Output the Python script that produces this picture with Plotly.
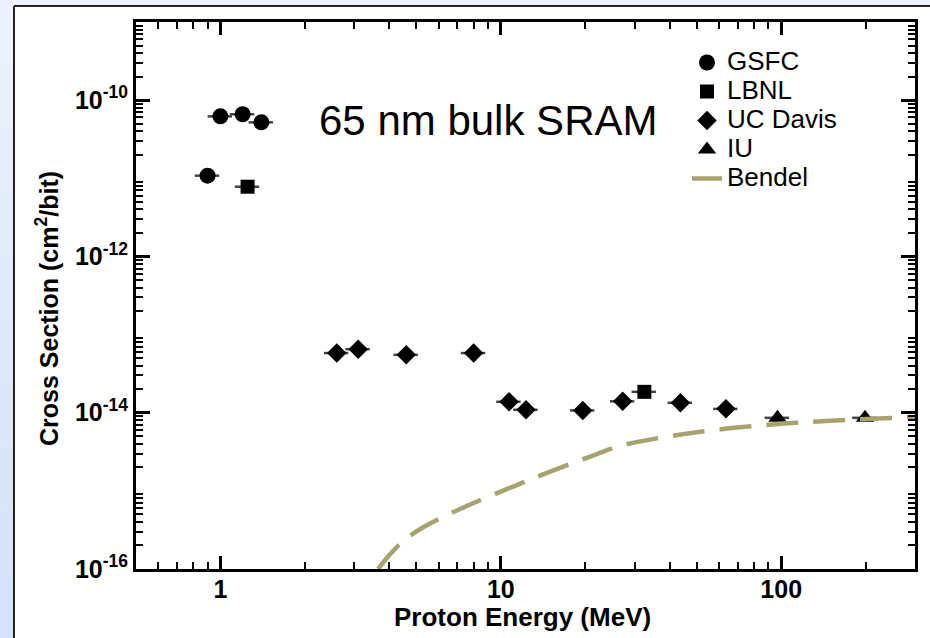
import plotly.graph_objects as go

# ---- data ----
gsfc_x = [0.9, 1.0, 1.2, 1.4]
gsfc_y = [1.08e-11, 6.2e-11, 6.6e-11, 5.2e-11]

lbnl_x = [1.25, 32.5]
lbnl_y = [7.8e-12, 1.85e-14]

ucd_x = [2.6, 3.1, 4.6, 8.0, 10.7, 12.3, 19.6, 27.2, 43.7, 63.5]
ucd_y = [5.8e-14, 6.5e-14, 5.5e-14, 5.8e-14, 1.38e-14, 1.09e-14, 1.07e-14, 1.4e-14, 1.34e-14, 1.12e-14]

iu_x = [97, 199]
iu_y = [0.86e-14, 0.86e-14]

bendel_x = [3.65, 4.0, 4.5, 5.2, 6.5, 8.0, 10.5, 14, 20, 27, 40, 60, 100, 150, 300]
bendel_y = [1.0e-16, 1.5e-16, 2.3e-16, 3.3e-16, 5.0e-16, 7.0e-16, 1.05e-15, 1.6e-15,
            2.6e-15, 3.8e-15, 5.0e-15, 6.1e-15, 7.2e-15, 7.9e-15, 8.8e-15]

x_err_pct = 10

legend_names = ["GSFC", "LBNL", "UC Davis", "IU", "Bendel"]

x_title = "Proton Energy (MeV)"
y_title = "Cross Section (cm<sup>2</sup>/bit)"
label_text = "65 nm bulk SRAM"

x_tickvals = [1, 10, 100]
x_ticktext = ["1", "10", "100"]
y_label_decades = [-16, -14, -12, -10]
y_tickvals = [10.0 ** d for d in y_label_decades]
y_ticktext = ["10<sup>%d</sup>" % d for d in y_label_decades]
y_odd_decades = [-15, -13, -11, -9]
y_oddvals = [10.0 ** d for d in y_odd_decades]

x_minor = [m * 10.0 ** e for e in range(-1, 3) for m in range(2, 10)]
x_minor = [v for v in x_minor if 0.5 <= v <= 300]
y_minor = [m * 10.0 ** e for e in range(-16, -9) for m in range(2, 10)]

FONT = "Arial, Liberation Sans, sans-serif"


def lname(s):
    return '<span style="font-size:26px">%s</span>' % s


fig = go.Figure()

err = dict(type="percent", value=x_err_pct, color="#444444", thickness=2.5, width=0)

fig.add_trace(go.Scatter(x=gsfc_x, y=gsfc_y, mode="markers", name=lname(legend_names[0]),
                         marker=dict(symbol="circle", size=16, color="black"),
                         error_x=err))
fig.add_trace(go.Scatter(x=lbnl_x, y=lbnl_y, mode="markers", name=lname(legend_names[1]),
                         marker=dict(symbol="square", size=14, color="black"),
                         error_x=err))
fig.add_trace(go.Scatter(x=ucd_x, y=ucd_y, mode="markers", name=lname(legend_names[2]),
                         marker=dict(symbol="diamond", size=15, color="black"),
                         error_x=err))
fig.add_trace(go.Scatter(x=iu_x, y=iu_y, mode="markers", name=lname(legend_names[3]),
                         marker=dict(symbol="triangle-up", size=16, color="black"),
                         error_x=err))
fig.add_trace(go.Scatter(x=bendel_x, y=bendel_y, mode="lines", name=lname(legend_names[4]),
                         line=dict(color="#a6a36e", width=4.5, dash="32px,15px",
                                   shape="spline")))

# geometry helpers (plot area 136..915 x 22..569 px)
L, R, T, B = 136, 15, 22, 69
PW, PH = 930 - L - R, 638 - T - B


def px(xp):
    return (xp - L) / PW


def py(yp):
    return 1 - (yp - T) / PH


shapes = []
# left light-blue gradient strip
n = 10
for i in range(n):
    y0p = 638 * i / n
    y1p = 638 * (i + 1) / n
    t = i / (n - 1)
    r = int(236 - 22 * t)
    g = int(242 - 16 * t)
    b = int(251 - 3 * t)
    shapes.append(dict(type="rect", xref="paper", yref="paper",
                       x0=px(0), x1=px(14), y0=py(y1p), y1=py(y0p),
                       fillcolor="rgb(%d,%d,%d)" % (r, g, b), line=dict(width=0),
                       layer="below"))
# top strip
shapes.append(dict(type="rect", xref="paper", yref="paper",
                   x0=px(14), x1=px(930), y0=py(6), y1=py(0),
                   fillcolor="rgb(238,243,251)", line=dict(width=0), layer="below"))
# border lines
shapes.append(dict(type="line", xref="paper", yref="paper",
                   x0=px(14), x1=px(930), y0=py(6), y1=py(6),
                   line=dict(color="#222222", width=2)))
shapes.append(dict(type="line", xref="paper", yref="paper",
                   x0=px(14), x1=px(14), y0=py(6), y1=py(638),
                   line=dict(color="#222222", width=2)))

annotations = [
    dict(text=label_text, x=px(488), y=py(120), xref="paper", yref="paper",
         showarrow=False, xanchor="center", yanchor="middle",
         font=dict(family=FONT, size=42, color="black")),
    dict(text=x_title, x=px(522), y=py(617), xref="paper", yref="paper",
         showarrow=False, xanchor="center", yanchor="middle",
         font=dict(family=FONT, size=26, color="black", weight="bold")),
    dict(text=y_title, x=px(47), y=py(309), xref="paper", yref="paper",
         showarrow=False, xanchor="center", yanchor="middle", textangle=-90,
         font=dict(family=FONT, size=25, color="black", weight="bold")),
]

fig.update_layout(
    width=930, height=638,
    margin=dict(l=L, r=R, t=T, b=B, autoexpand=False),
    paper_bgcolor="white", plot_bgcolor="white",
    font=dict(family=FONT, color="black"),
    showlegend=True,
    legend=dict(x=px(687), y=py(43), xanchor="left", yanchor="top",
                bgcolor="rgba(0,0,0,0)", borderwidth=0,
                font=dict(family=FONT, size=20, color="black"),
                itemwidth=30),
    shapes=shapes,
    annotations=annotations,
)

fig.update_layout(xaxis=dict(
    type="log", range=[-0.30103, 2.4771], automargin=False,
    tickmode="array", tickvals=x_tickvals, ticktext=x_ticktext,
    ticks="inside", ticklen=13, tickwidth=2.5, tickcolor="black",
    minor=dict(tickmode="array", tickvals=x_minor, ticks="inside", ticklen=7,
               tickwidth=1.5, tickcolor="black"),
    showline=True, linewidth=3, linecolor="black", mirror="ticks",
    showgrid=False, zeroline=False,
    tickfont=dict(family=FONT, size=25, weight="bold"),
    ticklabelstandoff=-4,
))
fig.update_layout(yaxis=dict(
    type="log", range=[-16, -9], automargin=False,
    tickmode="array", tickvals=y_tickvals, ticktext=y_ticktext,
    ticks="inside", ticklen=14, tickwidth=2.5, tickcolor="black",
    minor=dict(tickmode="array", tickvals=y_minor, ticks="inside", ticklen=7,
               tickwidth=1.5, tickcolor="black"),
    showline=True, linewidth=3, linecolor="black", mirror="ticks",
    showgrid=False, zeroline=False,
    tickfont=dict(family=FONT, size=25, weight="bold"),
    ticklabelstandoff=0,
))
# unlabeled major ticks at odd decades
fig.update_layout(yaxis2=dict(
    type="log", range=[-16, -9], overlaying="y", side="left", anchor="x",
    tickmode="array", tickvals=y_oddvals, showticklabels=False,
    ticks="inside", ticklen=14, tickwidth=2.5, tickcolor="black",
    showline=True, linewidth=3, linecolor="black", mirror="ticks",
    showgrid=False, zeroline=False, automargin=False,
))

fig.write_html("out.html")
